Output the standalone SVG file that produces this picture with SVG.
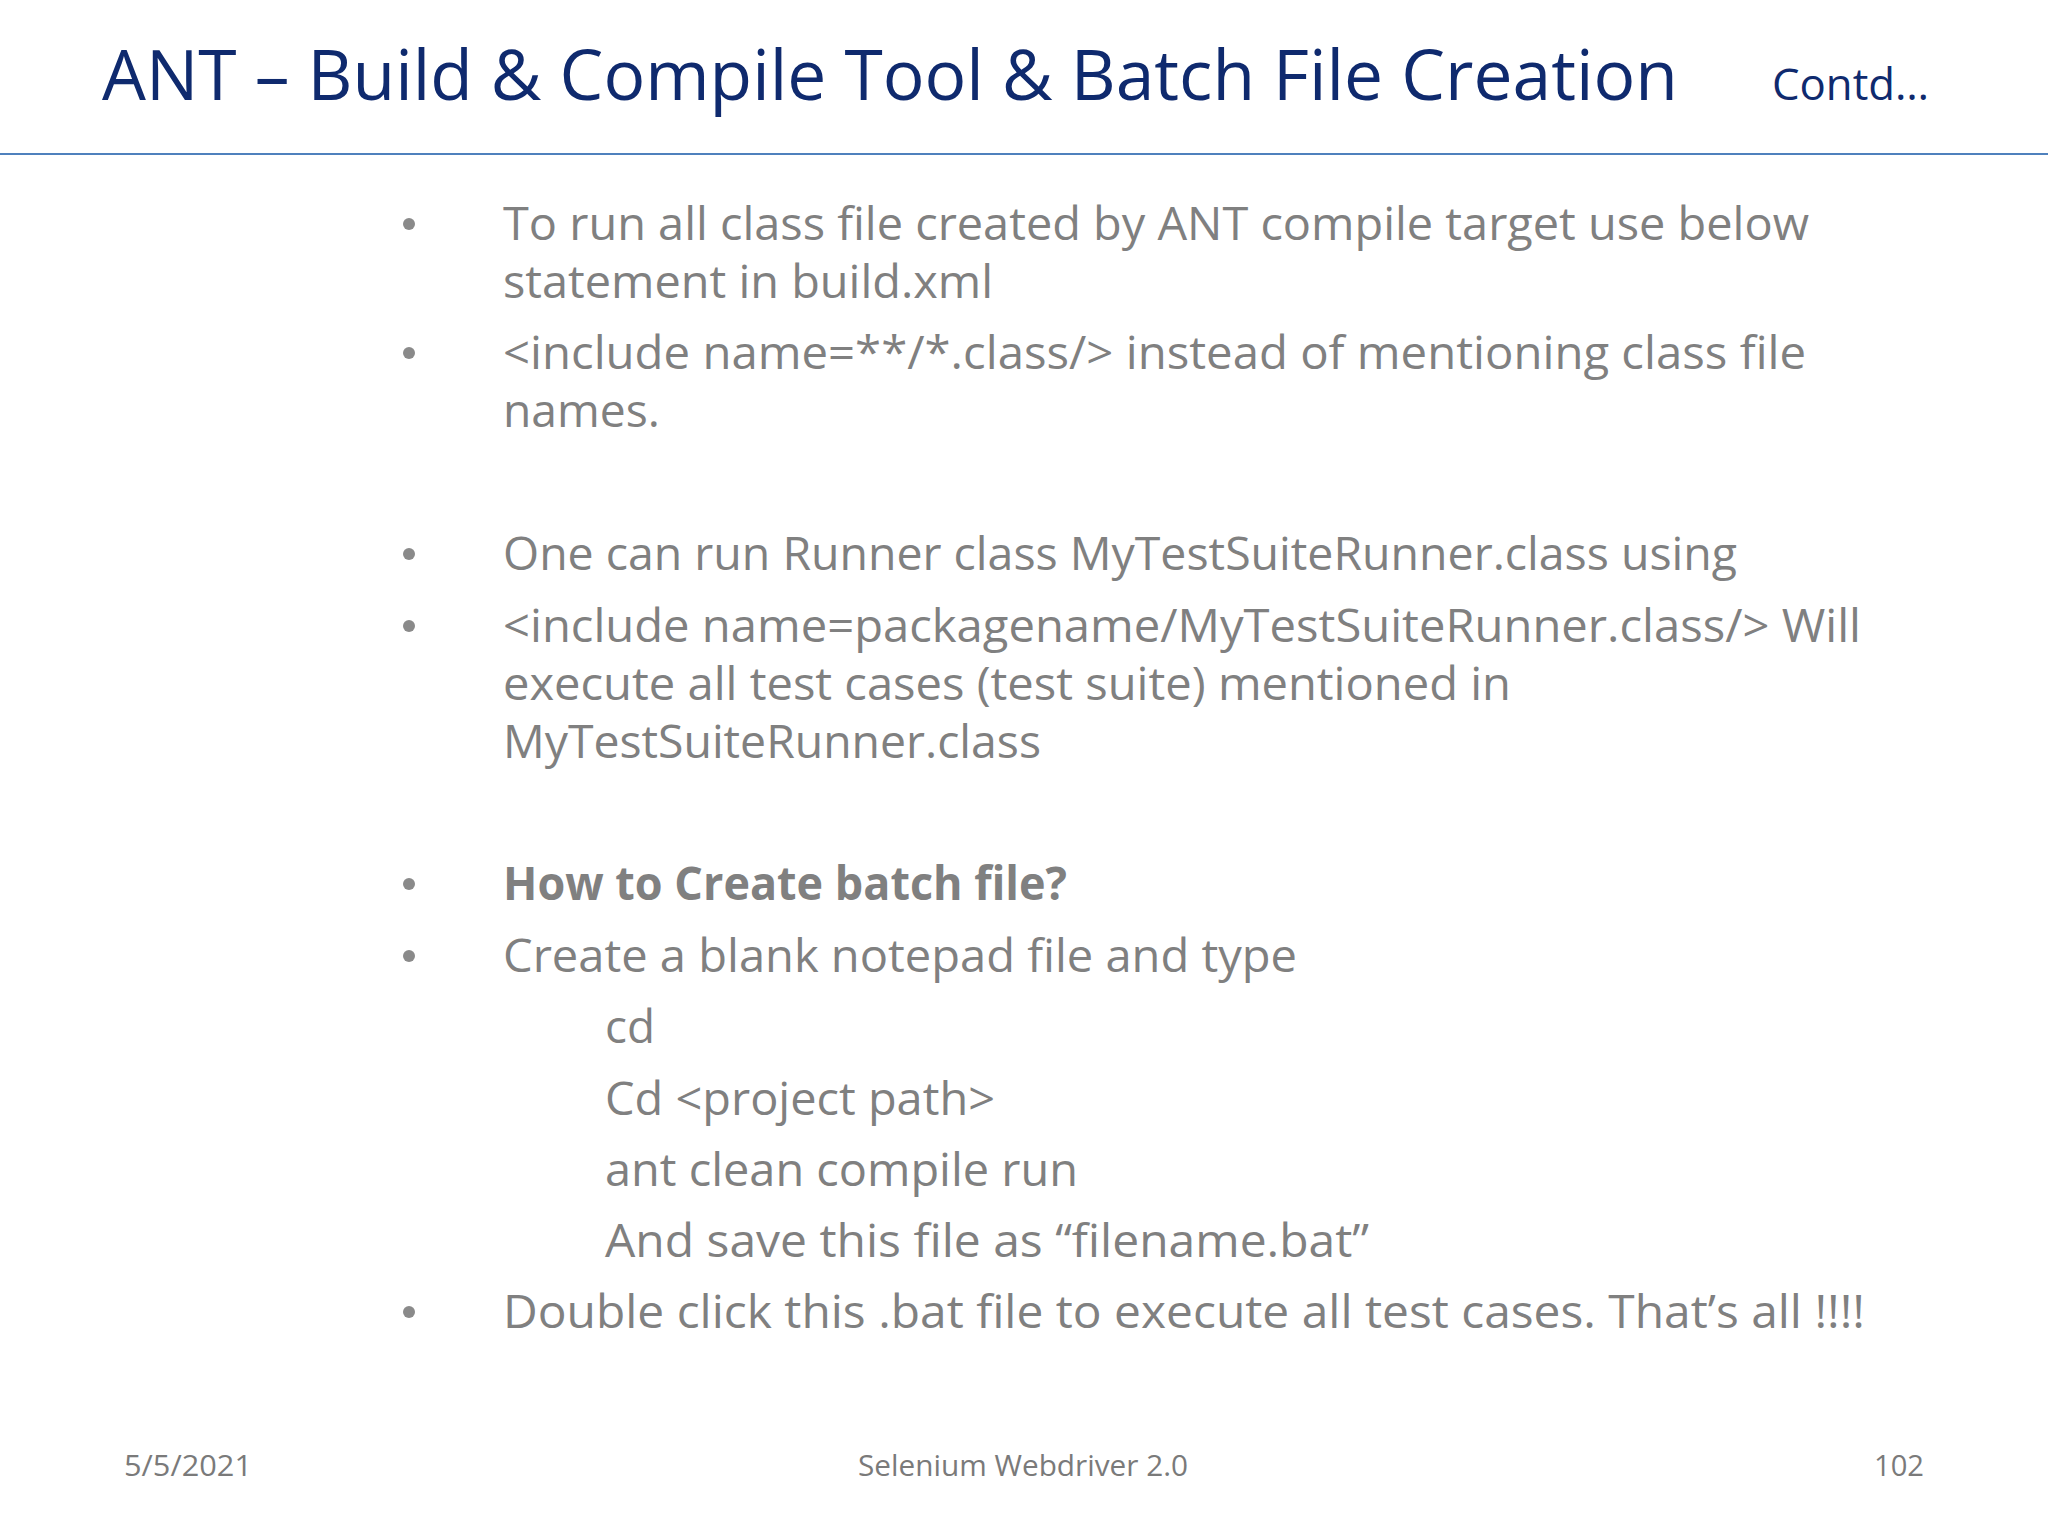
<svg xmlns="http://www.w3.org/2000/svg" width="2048" height="1536" viewBox="0 0 2048 1536">
<style>
.t{font-family:"Open Sans","Noto Sans",sans-serif;fill:#0f2a6e}
.b{font-family:"Open Sans","Noto Sans",sans-serif;font-size:46px;fill:#808080}
.f{font-family:"Open Sans","Noto Sans",sans-serif;font-size:30px;fill:#7a7a7a}
.d{fill:#8a8a8a}
</style>
<rect width="2048" height="1536" fill="#ffffff"/>
<g id="header">
<text class="t" x="102" y="100" font-size="70" textLength="1576" lengthAdjust="spacingAndGlyphs">ANT – Build &amp; Compile Tool &amp; Batch File Creation</text>
<text class="t" x="1772" y="100" font-size="44" textLength="157" lengthAdjust="spacingAndGlyphs">Contd…</text>
<line x1="0" y1="154" x2="2048" y2="154" stroke="#4f81bd" stroke-width="2"/>
</g>
<g id="bullets" class="d">
<circle cx="409" cy="224" r="6"/><circle cx="409" cy="353" r="6"/><circle cx="409" cy="554" r="6"/><circle cx="409" cy="626" r="6"/><circle cx="409" cy="884" r="6"/><circle cx="409" cy="956" r="6"/><circle cx="409" cy="1312" r="6"/>
</g>
<g id="body">
<text class="b" x="503" y="240" textLength="1306" lengthAdjust="spacingAndGlyphs">To run all class file created by ANT compile target use below</text>
<text class="b" x="503" y="298" textLength="490" lengthAdjust="spacingAndGlyphs">statement in build.xml</text>
<text class="b" x="503" y="369" textLength="1303" lengthAdjust="spacingAndGlyphs">&lt;include name=**/*.class/&gt; instead of mentioning class file</text>
<text class="b" x="503" y="427" textLength="157" lengthAdjust="spacingAndGlyphs">names.</text>
<text class="b" x="503" y="570" textLength="1234" lengthAdjust="spacingAndGlyphs">One can run Runner class MyTestSuiteRunner.class using</text>
<text class="b" x="503" y="642" textLength="1358" lengthAdjust="spacingAndGlyphs">&lt;include name=packagename/MyTestSuiteRunner.class/&gt; Will</text>
<text class="b" x="503" y="700" textLength="1008" lengthAdjust="spacingAndGlyphs">execute all test cases (test suite) mentioned in</text>
<text class="b" x="503" y="758" textLength="538" lengthAdjust="spacingAndGlyphs">MyTestSuiteRunner.class</text>
<text class="b" x="503" y="900" font-weight="bold" textLength="564" lengthAdjust="spacingAndGlyphs">How to Create batch file?</text>
<text class="b" x="503" y="972" textLength="794" lengthAdjust="spacingAndGlyphs">Create a blank notepad file and type</text>
<text class="b" x="605" y="1043" textLength="50" lengthAdjust="spacingAndGlyphs">cd</text>
<text class="b" x="605" y="1115" textLength="390" lengthAdjust="spacingAndGlyphs">Cd &lt;project path&gt;</text>
<text class="b" x="605" y="1186" textLength="473" lengthAdjust="spacingAndGlyphs">ant clean compile run</text>
<text class="b" x="605" y="1257" textLength="764" lengthAdjust="spacingAndGlyphs">And save this file as “filename.bat”</text>
<text class="b" x="503" y="1328" textLength="1362" lengthAdjust="spacingAndGlyphs">Double click this .bat file to execute all test cases. That’s all !!!!</text>
</g>
<g id="footer">
<text class="f" x="124" y="1476" textLength="128" lengthAdjust="spacingAndGlyphs">5/5/2021</text>
<text class="f" x="858" y="1476" textLength="330" lengthAdjust="spacingAndGlyphs">Selenium Webdriver 2.0</text>
<text class="f" x="1874" y="1476" textLength="50" lengthAdjust="spacingAndGlyphs">102</text>
</g>
</svg>
